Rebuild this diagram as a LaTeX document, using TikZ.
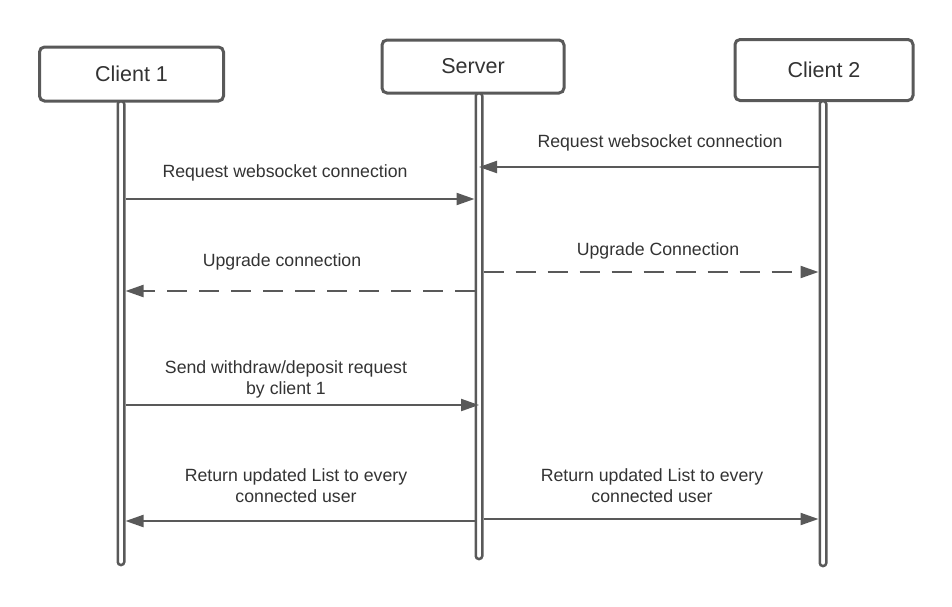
\documentclass[tikz,border=0pt]{standalone}
\usepackage{fontspec}
\setmainfont{Liberation Sans}
\usetikzlibrary{arrows.meta}
\definecolor{ln}{HTML}{595959}
\definecolor{tx}{HTML}{333333}
\tikzset{
  actor/.style={draw=ln, line width=3pt, rounded corners=5pt, fill=white, text=tx,
    font=\fontsize{21.5}{25}\selectfont, inner sep=0pt},
  lifeline/.style={draw=ln, line width=2.5pt, rounded corners=3pt, fill=white,
    minimum width=6.5pt, inner sep=0pt},
  msg/.style={draw=ln, line width=2.2pt, -{Triangle[length=18pt,width=12pt]}},
  reply/.style={msg, dash pattern=on 20pt off 12pt},
  lbl/.style={text=tx, font=\fontsize{17.7}{21}\selectfont, align=center, inner sep=0pt, anchor=base}
}
\begin{document}
\begin{tikzpicture}[x=1pt,y=-1pt]
\useasboundingbox (0,0) rectangle (952,606);
% lifelines
\node[lifeline, minimum height=464pt] (l1) at (121,333) {};
\node[lifeline, minimum height=466pt] (ls) at (479,326) {};
\node[lifeline, minimum height=465pt] (l2) at (823,333.5) {};
% actors
\node[actor, minimum width=184pt, minimum height=54pt] (c1) at (131.5,74) {Client 1};
\node[actor, minimum width=182pt, minimum height=53pt] (srv) at (473,66.5) {Server};
\node[actor, minimum width=178pt, minimum height=61pt] (c2) at (824,70) {Client 2};
% endpoints
\coordinate (a1s) at (l2.west |- 0,167);  \coordinate (a1e) at (ls.center |- 0,167);
\coordinate (a2s) at (l1.east |- 0,199);  \coordinate (a2e) at (ls.west |- 0,199);
\coordinate (a3s) at (ls.east |- 0,272);  \coordinate (a3e) at (l2.west |- 0,272);
\coordinate (a4s) at (ls.west |- 0,291);  \coordinate (a4e) at (l1.east |- 0,291);
\coordinate (a5s) at (l1.east |- 0,405);  \coordinate (a5e) at (ls.center |- 0,405);
\coordinate (a6s) at (ls.west |- 0,521);  \coordinate (a6e) at (l1.east |- 0,521);
\coordinate (a7s) at (ls.east |- 0,519);  \coordinate (a7e) at (l2.west |- 0,519);
% messages
\draw[msg] (a1s) -- (a1e);
\draw[msg] (a2s) -- (a2e);
\draw[reply] (a3s) -- (a3e);
\draw[reply] (a4s) -- (a4e);
\draw[msg] (a5s) -- (a5e);
\draw[msg] (a6s) -- (a6e);
\draw[msg] (a7s) -- (a7e);
% labels
\node[lbl] (t1) at (660,147) {Request websocket connection};
\node[lbl] (t2) at (285,177) {Request websocket connection};
\node[lbl] (t3) at (658,255) {Upgrade Connection};
\node[lbl] (t4) at (282,266) {Upgrade connection};
\node[lbl] (t5) at (286,394) {Send withdraw/deposit request\\by client 1};
\node[lbl] (t6) at (296,502) {Return updated List to every\\connected user};
\node[lbl] (t7) at (652,502) {Return updated List to every\\connected user};
\end{tikzpicture}
\end{document}
